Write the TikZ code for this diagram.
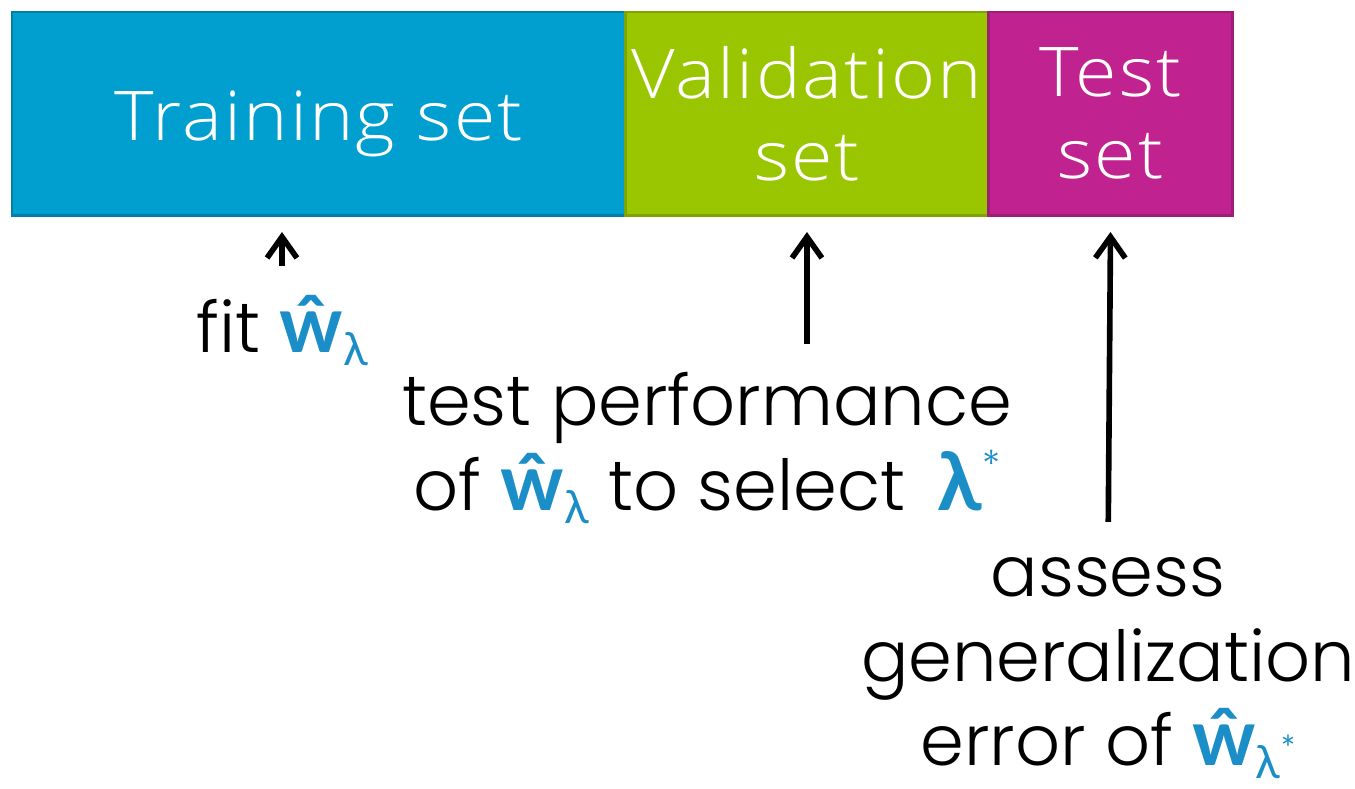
\documentclass[tikz,border=0pt]{standalone}
\usepackage{fontspec}
\setmainfont{Poppins}[UprightFont=* Light, BoldFont=* SemiBold]
\newfontfamily\setfont{Open Sans}[UprightFont=* Light, FakeStretch=1.1, LetterSpace=3]
\newfontfamily\grk{Lato}
\usetikzlibrary{arrows.meta, positioning}
\definecolor{trainfill}{HTML}{009FCF}
\definecolor{trainline}{HTML}{0080A8}
\definecolor{validfill}{HTML}{99C600}
\definecolor{validline}{HTML}{7FA300}
\definecolor{testfill}{HTML}{C0238F}
\definecolor{testline}{HTML}{9E1D76}
\definecolor{wblue}{HTML}{1B8EC8}
\newcommand{\lowsub}[1]{\raisebox{-3.8pt}{\fontsize{13pt}{13pt}\selectfont #1}}
\newcommand{\what}{{\grk\bfseries\fontsize{22.5pt}{24pt}\selectfont ŵ}}
\newcommand{\wlam}{{\color{wblue}\what\lowsub{\grk λ}}}
\newcommand{\wlamstar}{{\color{wblue}\what\lowsub{\grk λ\raisebox{5pt}{\fontsize{10pt}{10pt}\selectfont *}}}}
\newcommand{\lamstar}{{\color{wblue}{\grk\bfseries\fontsize{23pt}{24pt}\selectfont\,λ}\raisebox{9pt}{\fontsize{11pt}{11pt}\selectfont *}}}
\tikzset{
  part/.style  = {draw=#1line, fill=#1fill, line width=0.85pt, text=white,
                  minimum height=2.03cm, inner sep=0pt, outer sep=0pt,
                  align=center, font=\setfont\fontsize{19.5pt}{23.3pt}\selectfont},
  note/.style  = {inner sep=0pt, align=center,
                  font=\fontsize{20pt}{24pt}\selectfont},
  up/.style    = {-{Straight Barb[length=6pt,width=8.5pt]}, line width=1.6pt,
                  shorten <=8pt, shorten >=4.8pt},
}
\begin{document}
\begin{tikzpicture}[x=0.01cm, y=-0.01cm]
\useasboundingbox (0,0) rectangle (1355,788);

\node[part=train, minimum width=6.13cm, text height=20pt, anchor=north west] (train) at (12,12) {Training set};
\node[part=valid, minimum width=3.63cm, right=0pt of train] (valid) {Validation\\set};
\node[part=test, minimum width=2.44cm, right=0pt of valid] (test) {Test\\set};

\node[note, anchor=base] (fit) at (282,352) {fit \wlam};
\node[note, anchor=north] (perf) at (707,372) {test performance\\of \wlam{} to select \lamstar};
\node[note, anchor=north] (gen) at (1108,557) {assess\\generalization\\error of \wlamstar};

\draw[up] (fit.north) -- (fit.north |- train.south);
\draw[up] (valid.south |- perf.north) -- (valid.south);
\draw[up, shorten <=10pt] (gen.north) -- (test.south);

\end{tikzpicture}
\end{document}
